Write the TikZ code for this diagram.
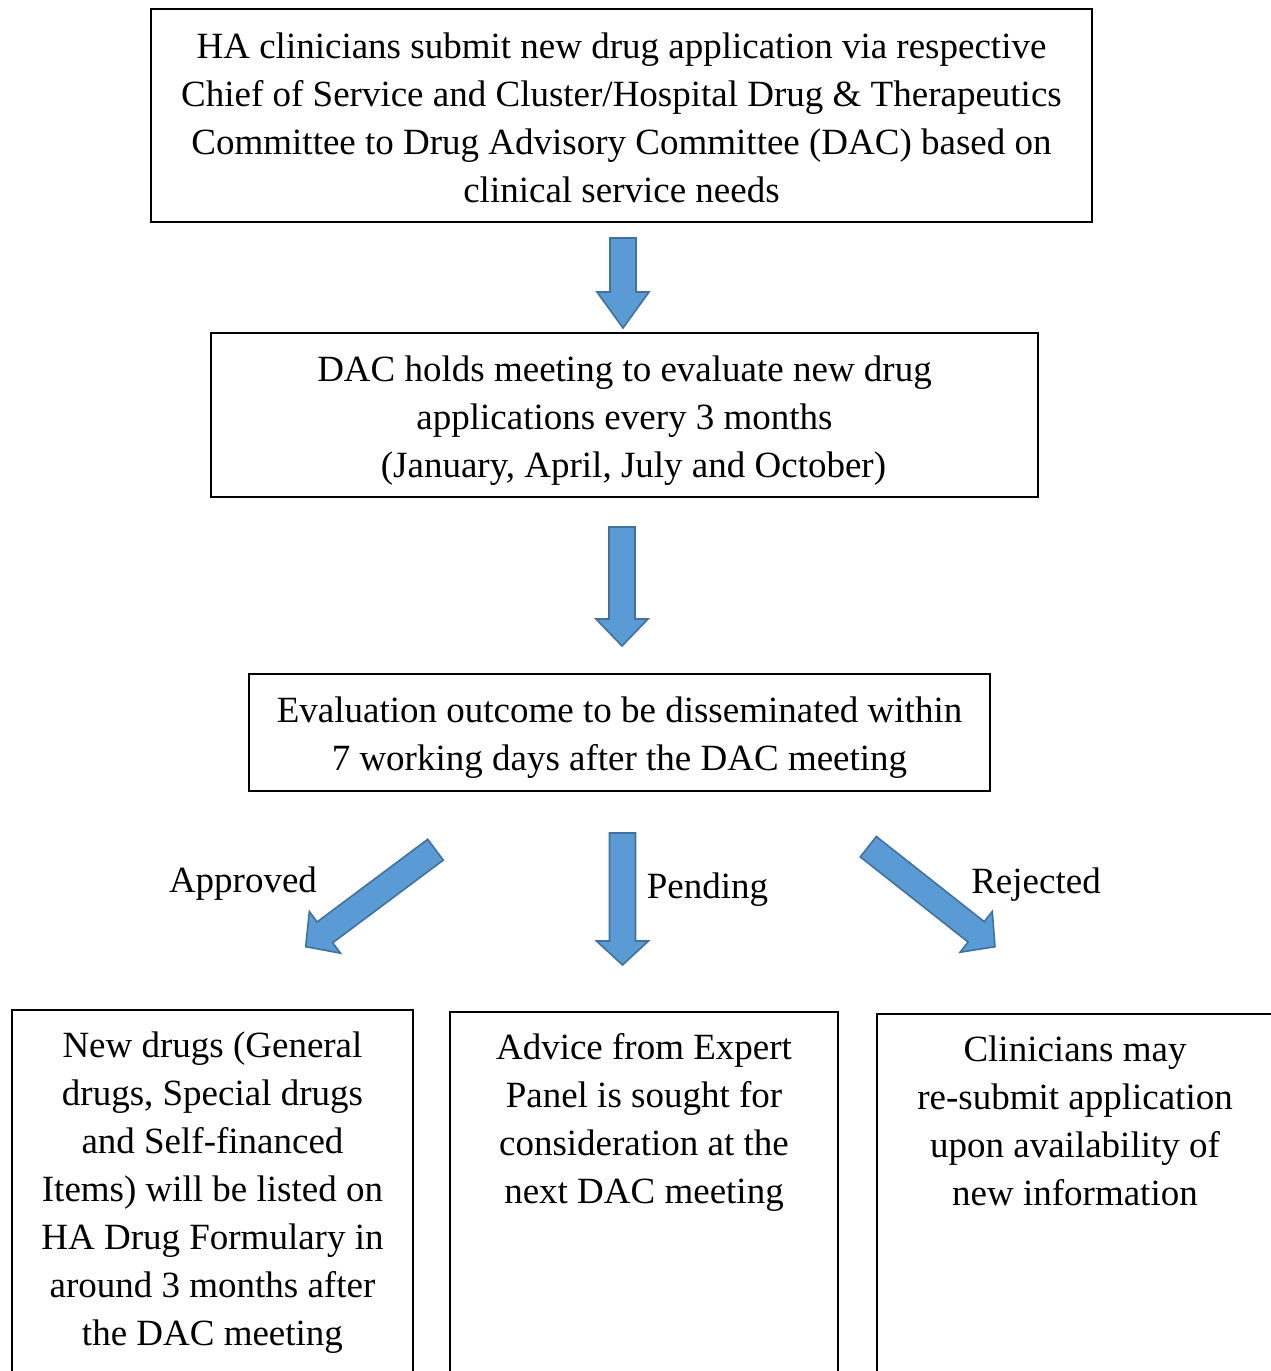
\documentclass[tikz,border=0pt]{standalone}
\usepackage{fontspec}
\setmainfont{Liberation Serif}
\usetikzlibrary{calc}
\definecolor{arrowfill}{HTML}{5B9BD5}
\definecolor{arrowline}{HTML}{41719C}
\tikzset{
  box/.style={draw=black, line width=2pt, inner sep=0pt},
  txt/.style={align=center, inner sep=0pt, font=\fontsize{37}{48}\selectfont},
  lbl/.style={inner sep=0pt, font=\fontsize{37}{48}\selectfont, anchor=base},
  blockarrow/.style={fill=arrowfill, draw=arrowline, line width=1.6pt, line join=miter}
}
% #1 tail, #2 tip, #3 head length
\newcommand\barrow[3]{%
  \coordinate (hb) at ($(#2)!#3!(#1)$);
  \path[blockarrow] ($(#1)!13pt!90:(#2)$) -- ($(hb)!13pt!-90:(#1)$) -- ($(hb)!26pt!-90:(#1)$)
    -- (#2) -- ($(hb)!26pt!90:(#1)$) -- ($(hb)!13pt!90:(#1)$) -- ($(#1)!13pt!-90:(#2)$) -- cycle;
}
\begin{document}
\begin{tikzpicture}[x=1pt,y=-1pt]
\useasboundingbox (0,0) rectangle (1271,1371);
\fill[white] (0,0) rectangle (1271,1371);
\clip (0,0) rectangle (1271,1371);

% boxes
\node[box, minimum width=941pt, minimum height=213pt] (b1) at (621.5,115.5) {};
\node[txt] (t1) at ($(b1.center)+(0,2)$) {HA clinicians submit new drug application via respective\\Chief of Service and Cluster/Hospital Drug \& Therapeutics\\Committee to Drug Advisory Committee (DAC) based on\\clinical service needs};

\node[box, minimum width=827pt, minimum height=164pt] (b2) at (624.5,415) {};
\node[txt] (t2) at ($(b2.center)+(0,6)$) {DAC holds meeting to evaluate new drug\\applications every 3 months\\\hspace*{18pt}(January, April, July and October)};

\node[box, minimum width=741pt, minimum height=117pt] (b3) at (619.5,732.5) {};
\node[txt] (t3) at ($(b3.center)+(0,5)$) {Evaluation outcome to be disseminated within\\7 working days after the DAC meeting};

\node[box, anchor=north west, minimum width=401pt, minimum height=420pt] (b4) at (11,1009) {};
\node[txt, anchor=north] (t4) at ($(b4.north)+(0,23)$) {New drugs (General\\drugs, Special drugs\\and Self-financed\\Items) will be listed on\\HA Drug Formulary in\\around 3 months after\\the DAC meeting};

\node[box, anchor=north west, minimum width=388pt, minimum height=420pt] (b5) at (449,1011) {};
\node[txt, anchor=north] (t5) at ($(b5.north)+(0,22)$) {Advice from Expert\\Panel is sought for\\consideration at the\\next DAC meeting};

\node[box, anchor=north west, minimum width=396pt, minimum height=420pt] (b6) at (876,1013) {};
\node[txt, anchor=north] (t6) at ($(b6.north)+(0,23)$) {Clinicians may\\re-submit application\\upon availability of\\new information};

% arrows
\coordinate (a1s) at (623,238);
\coordinate (a1e) at (623,328);
\barrow{a1s}{a1e}{36pt}
\coordinate (a2s) at (622,527);
\coordinate (a2e) at (622,646);
\barrow{a2s}{a2e}{27pt}
\coordinate (a3s) at (622.5,833);
\coordinate (a3e) at (622.5,965);
\barrow{a3s}{a3e}{24pt}
\coordinate (a4s) at (435.5,849.7);
\coordinate (a4e) at (305.7,946.7);
\barrow{a4s}{a4e}{24pt}
\coordinate (a5s) at (868.3,846.7);
\coordinate (a5e) at (995,946.7);
\barrow{a5s}{a5e}{24pt}

% labels
\node[lbl] (l1) at (243,892) {Approved};
\node[lbl] (l2) at (707.5,898) {Pending};
\node[lbl] (l3) at (1036,893) {Rejected};
\end{tikzpicture}
\end{document}
